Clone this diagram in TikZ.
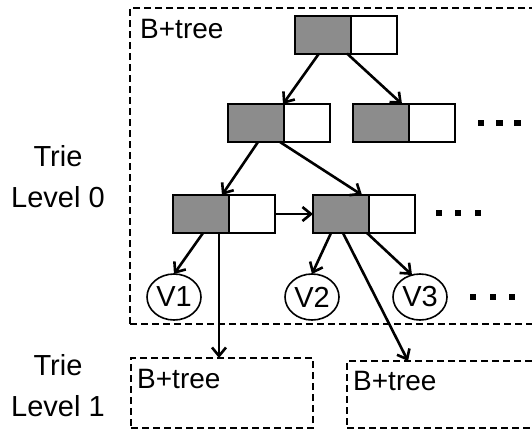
\documentclass[tikz,border=0pt]{standalone}
\usepackage{fontspec}
\setmainfont{Liberation Sans}
\usetikzlibrary{arrows.meta,shapes.geometric,calc}
\definecolor{keygray}{RGB}{140,140,140}
\begin{document}
\begin{tikzpicture}[x=1pt,y=-1pt,
  keybox/.style={draw=black,line width=2pt,fill=keygray,minimum width=56pt,minimum height=38pt,inner sep=0,outer sep=0,anchor=west},
  ptrbox/.style={draw=black,line width=2pt,fill=white,minimum width=46pt,minimum height=38pt,inner sep=0,outer sep=0,anchor=west},
  val/.style={ellipse,draw,line width=1.6pt,minimum width=54pt,minimum height=46pt,inner sep=0,outer sep=0,font=\fontsize{29}{30}\selectfont},
  link/.style={line width=2.6pt,-{Straight Barb[length=8.5pt,width=14pt,line width=2.6pt]}},
  region/.style={draw,line width=2pt,dash pattern=on 7pt off 4pt,inner sep=0,outer sep=0},
  lbl/.style={font=\fontsize{28}{30}\selectfont,inner sep=0},
  sidelbl/.style={font=\fontsize{29}{41}\selectfont,align=center,inner sep=0},
  dotsq/.style={fill=black,minimum size=6.5pt,inner sep=0}
]
\useasboundingbox (0,0) rectangle (532,432);
\clip (0,0) rectangle (532,432);

% regions
\node[region,minimum width=430pt,minimum height=316pt] (t0) at (345,166) {};
\node[region,minimum width=182pt,minimum height=70pt] (t1a) at (222,393) {};
\node[region,minimum width=213pt,minimum height=67pt] (t1b) at (453.5,394.5) {};
\node[lbl,anchor=base west] (b0) at (140,38) {B+tree};
\node[lbl,anchor=base west] (b1a) at (137,388) {B+tree};
\node[lbl,anchor=base west] (b1b) at (353,390) {B+tree};

% side labels
\node[sidelbl] (lv0) at (58,177) {Trie\\Level 0};
\node[sidelbl] (lv1) at (58,386) {Trie\\Level 1};

% tree nodes
\node[keybox] (rk) at (295,34.5) {};
\node[ptrbox] (rp) at (rk.east) {};
\node[keybox] (l2ak) at (228,123) {};
\node[ptrbox] (l2ap) at (l2ak.east) {};
\node[keybox] (l2bk) at (353,123) {};
\node[ptrbox] (l2bp) at (l2bk.east) {};
\node[keybox] (l3ak) at (173,214) {};
\node[ptrbox] (l3ap) at (l3ak.east) {};
\node[keybox] (l3bk) at (313,214) {};
\node[ptrbox] (l3bp) at (l3bk.east) {};

% values
\node[val] (v1) at (174,297) {V1};
\node[val] (v2) at (312,297) {V2};
\node[val] (v3) at (420,297) {V3};

% ellipsis dots
\foreach \x [count=\i] in {481,499.5,517.5} \node[dotsq] (da\i) at (\x,123) {};
\foreach \x [count=\i] in {439,458,478} \node[dotsq] (db\i) at (\x,213) {};
\foreach \x [count=\i] in {473,493,512} \node[dotsq] (dc\i) at (\x,297) {};

% connectors
\draw[link] ($(rk.south)+(-4,0)$) -- ($(l2ak.north east)+(-1,0)$);
\draw[link] ($(rk.south east)+(-4,0)$) -- ($(l2bk.north east)+(-7,0)$);
\draw[link] ($(l2ak.south)+(2,0)$) -- ($(l3ak.north east)+(-7,0)$);
\draw[link] ($(l2ak.south east)+(-4,0)$) -- ($(l3bk.north east)+(-7,0)$);
\draw[link] (l3ap.east) -- (l3bk.west);
\draw[link] ($(l3ak.south)+(2,0)$) -- (v1.north);
\coordinate (d1) at ($(l3ak.south east)+(-10,0)$);
\draw[link] (d1) -- (d1 |- t1a.north);
\draw[link] ($(l3bk.south)+(-10,0)$) -- (v2.north);
\draw[link] ($(l3bk.south east)+(-2,0)$) -- ($(v3.north)+(-8,1)$);
\draw[link] ($(l3bk.south)+(2,0)$) -- ($(t1b.north west)+(61,0)$);
\end{tikzpicture}
\end{document}
